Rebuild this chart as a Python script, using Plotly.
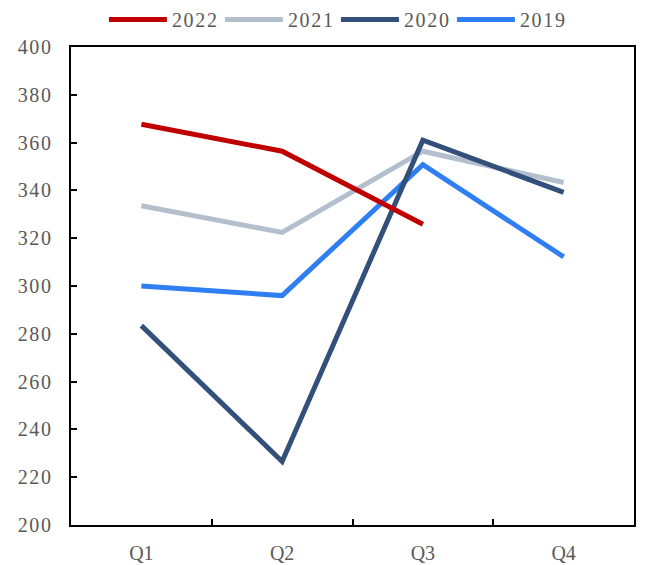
import plotly.graph_objects as go

quarters = ["Q1", "Q2", "Q3", "Q4"]
s2022 = [367.7, 356.4, 325.8, None]
s2021 = [333.6, 322.4, 356.4, 343.3]
s2020 = [283.4, 226.6, 361.0, 339.2]
s2019 = [300.0, 296.0, 350.8, 312.2]
y_ticks = [200, 220, 240, 260, 280, 300, 320, 340, 360, 380, 400]

HAIR = "\u200a"


def spaced(text):
    # widen the character spacing of a label
    return HAIR.join(str(text))


series = [
    ("2021", s2021, "#B4BFCE", 2),
    ("2019", s2019, "#2F7FF2", 4),
    ("2020", s2020, "#33507A", 3),
    ("2022", s2022, "#C00000", 1),
]

fig = go.Figure()
for name, vals, color, rank in series:
    fig.add_trace(go.Scatter(
        x=quarters, y=vals, name=spaced(name), mode="lines",
        line=dict(color=color, width=5),
        legendrank=rank, connectgaps=False,
    ))

font = dict(family="Liberation Serif, Times New Roman, serif", size=20, color="#595959")

fig.update_layout(
    width=646, height=565,
    margin=dict(l=71, r=12, t=47, b=40, autoexpand=False),
    plot_bgcolor="white", paper_bgcolor="white",
    font=font,
    showlegend=True,
    legend=dict(orientation="h", xref="container", yref="container",
                x=0.52, xanchor="center", y=1.0, yanchor="top",
                font=font, tracegroupgap=0, itemwidth=58, entrywidth=43,
                bgcolor="rgba(0,0,0,0)"),
)
fig.update_xaxes(
    showgrid=False, showline=True, linecolor="black", linewidth=2, mirror=True,
    ticks="inside", tickson="boundaries", ticklen=6, tickwidth=2, tickcolor="black",
    range=[-0.5, 3.5], tickfont=font, ticklabelstandoff=9, automargin=False,
)
fig.update_yaxes(
    showgrid=False, showline=True, linecolor="black", linewidth=2, mirror=True,
    ticks="inside", ticklen=6, tickwidth=2, tickcolor="black",
    range=[200, 400], tickvals=y_ticks, ticktext=[spaced(v) for v in y_ticks],
    tickfont=font, zeroline=False, ticklabelstandoff=14, automargin=False,
)

fig.write_html("out.html")
